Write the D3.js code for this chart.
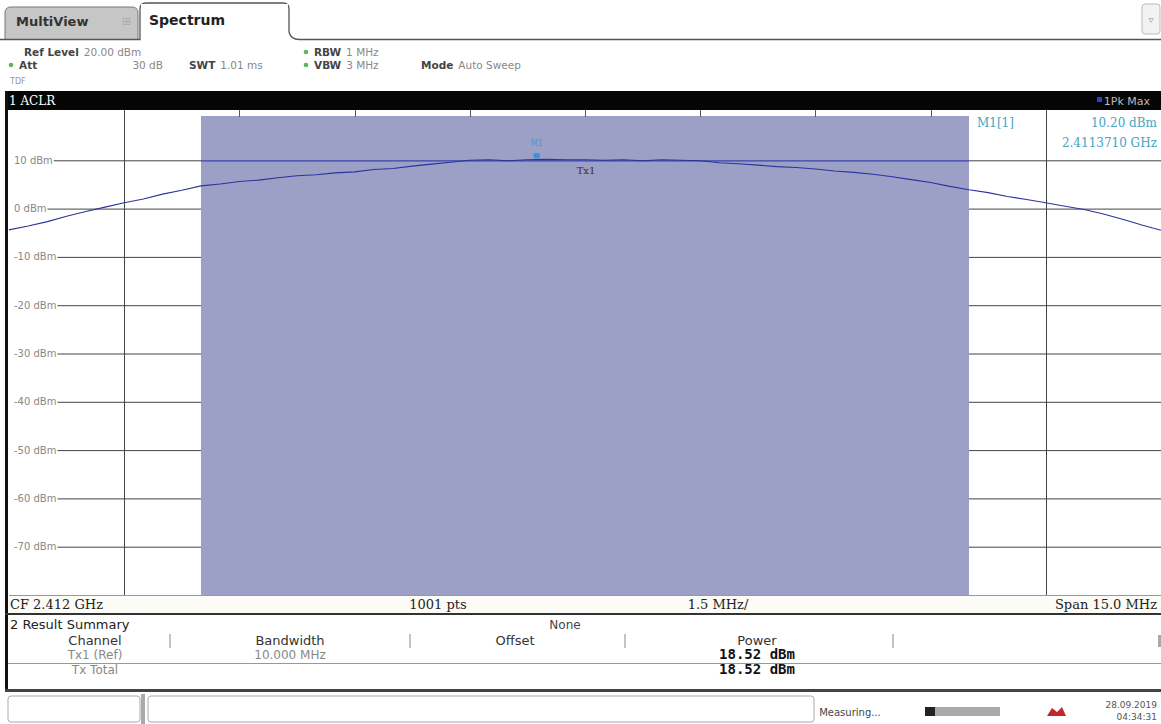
<!DOCTYPE html>
<html>
<head>
<meta charset="utf-8">
<script src="https://cdn.jsdelivr.net/npm/d3@7"></script>
<style>
  body { margin: 0; background: #fff; }
  svg { display: block; font-family: "DejaVu Sans", Verdana, sans-serif; }
</style>
</head>
<body>
<div id="chart"></div>
<script>
// ACLR screen, values

// frequency offset from CF (MHz) and trace level (dBm)
const traceFreq = [-7.5,-7.25,-7,-6.75,-6.5,-6.25,-6,-5.75,-5.5,-5.25,-5,-4.75,-4.5,-4.25,-4,-3.75,-3.5,-3.25,-3,-2.75,-2.5,-2.25,-2,-1.75,-1.5,-1.25,-1,-0.75,-0.5,-0.25,0,0.25,0.5,0.75,1,1.25,1.5,1.75,2,2.25,2.5,2.75,3,3.25,3.5,3.75,4,4.25,4.5,4.75,5,5.25,5.5,5.75,6,6.25,6.5,6.75,7,7.25,7.5];
const traceLevel = [-4.4,-3.6,-2.7,-1.6,-0.6,0.3,1.2,2.0,3.0,3.8,4.7,5.1,5.6,5.9,6.4,6.8,7.0,7.4,7.6,8.1,8.3,8.8,9.2,9.6,10.0,10.1,9.9,10.1,10.2,10.1,10.1,10.0,10.1,9.9,10.1,10.0,9.9,9.5,9.3,9.0,8.7,8.5,8.2,7.8,7.5,7.1,6.6,6.0,5.4,4.6,3.9,3.3,2.5,1.9,1.2,0.5,-0.2,-1.1,-2.2,-3.4,-4.5];

const gridFreq = [-6,-4.5,-3,-1.5,0,1.5,3,4.5,6];
const gridLevel = [10,0,-10,-20,-30,-40,-50,-60,-70];
const channel = {name: 'Tx1', lo: -5, hi: 5};
const marker = {name: 'M1', freq: -0.629, level: 10.20, label: '10.20 dBm', freqLabel: '2.4113710 GHz'};

const footer = ['CF 2.412 GHz', '1001 pts', '1.5 MHz/', 'Span 15.0 MHz'];
const tableHead = ['Channel', 'Bandwidth', 'Offset', 'Power'];
const tableRows = [
  ['Tx1 (Ref)', '10.000 MHz', '', '18.52 dBm'],
  ['Tx Total', '', '', '18.52 dBm']
];

const W = 1161, H = 724;
const svg = d3.select('#chart').append('svg')
  .attr('width', W).attr('height', H);

const small = (x, y, t, opts = {}) => svg.append('text').attr('x', x).attr('y', y).text(t)
  .attr('text-anchor', opts.anchor || 'start')
  .style('font-size', (opts.size || 10) + 'px')
  .style('font-weight', opts.bold ? 'bold' : 'normal')
  .style('fill', opts.fill || '#555')
  .style('font-family', opts.family || null);
const dot = (x, y) => svg.append('circle').attr('cx', x).attr('cy', y).attr('r', 2.3).style('fill', '#5bb55b');
// bold setting name followed by its grey value
const setting = (x, y, name, value, vx) => {
  const t = small(x, y, name, {size: 10.5, bold: true, fill: '#444'});
  const w = t.node().getComputedTextLength();
  small(vx || x + w + 5, y, value, {size: 10.5, fill: '#888', anchor: vx ? 'end' : 'start'});
};

// ---------- header ----------
svg.append('path')
  .attr('d', 'M5,39 L5,13 Q5,7 11,7 L132,7 Q138,7 138,13 L138,39')
  .style('fill', '#c6c6c6').style('stroke', '#777');
svg.append('path')
  .attr('d', 'M0,39.5 L140,39.5 L140,9 Q140,3 146,3 L283,3 Q289,3 289,9 L289,32 Q291,39.5 299,39.5 L1161,39.5')
  .style('fill', 'none').style('stroke', '#555').style('stroke-width', 1.3);
svg.append('rect').attr('x', 141).attr('y', 4).attr('width', 147).attr('height', 35).style('fill', '#fff');
small(16, 26, 'MultiView', {size: 13, bold: true, fill: '#333'});
small(122, 25, '⊞', {size: 11, fill: '#aaa'});
small(149, 25, 'Spectrum', {size: 14, bold: true, fill: '#222'});
svg.append('rect').attr('x', 1142).attr('y', 4).attr('width', 18).attr('height', 30).attr('rx', 3)
  .style('fill', '#f2f2f2').style('stroke', '#bbb');
small(1151, 23, '▿', {size: 10, fill: '#999', anchor: 'middle'});

// settings
setting(24, 56, 'Ref Level', '20.00 dBm');
dot(11, 65); setting(19, 69, 'Att', '30 dB', 163);
setting(189, 69, 'SWT', '1.01 ms');
dot(306, 52); setting(314, 56, 'RBW', '1 MHz');
dot(306, 65); setting(314, 69, 'VBW', '3 MHz');
setting(421, 69, 'Mode', 'Auto Sweep');
small(10, 84, 'TDF', {size: 8, fill: '#999'});

// ---------- diagram ----------
const pLeft = 9, pRight = 1161, pTop = 112, pBottom = 595;
const x = d3.scaleLinear().domain([-7.5, 7.5]).range([pLeft, pRight]);
const y = d3.scaleLinear().domain([-80, 20]).range([pBottom, pTop]);

// title bar
svg.append('rect').attr('x', 5).attr('y', 91).attr('width', W - 5).attr('height', 19).style('fill', '#050505');
small(9, 105, '1 ACLR', {size: 12, fill: '#fff', family: 'DejaVu Serif, serif'});
svg.append('rect').attr('x', 1097).attr('y', 97).attr('width', 5).attr('height', 5).style('fill', '#3040c8');
small(1150, 105, '1Pk Max', {size: 11, fill: '#bbb', anchor: 'end'});

// left frame
svg.append('rect').attr('x', 5).attr('y', 91).attr('width', 3).attr('height', 523).style('fill', '#111');
svg.append('rect').attr('x', pLeft).attr('y', 110).attr('width', pRight - pLeft).attr('height', pBottom - 110).style('fill', '#fff');

// horizontal grid with labels
const gy = svg.append('g');
gridLevel.forEach(function(v) {
  const t = gy.append('text').attr('x', 14).attr('y', y(v) + 3.5).text(v + ' dBm')
    .style('font-size', '10px').style('fill', '#888');
  const w = t.node().getComputedTextLength();
  gy.append('line').attr('x1', 14 + w + 1).attr('x2', pRight)
    .attr('y1', y(v) + 0.5).attr('y2', y(v) + 0.5)
    .style('stroke', '#444').style('stroke-width', 1);
});
// vertical grid
svg.append('g').selectAll('line').data(gridFreq).enter().append('line')
  .attr('x1', d => Math.round(x(d)) + 0.5).attr('x2', d => Math.round(x(d)) + 0.5)
  .attr('y1', pTop - 2).attr('y2', pBottom)
  .style('stroke', '#444').style('stroke-width', 1);

// channel shading
svg.append('rect')
  .attr('x', x(channel.lo)).attr('y', pTop + 4)
  .attr('width', x(channel.hi) - x(channel.lo)).attr('height', pBottom - pTop - 4)
  .style('fill', '#9c9fc6');
svg.append('g').selectAll('line').data(gridFreq.filter(d => d > channel.lo && d < channel.hi)).enter().append('line')
  .attr('x1', d => Math.round(x(d)) + 0.5).attr('x2', d => Math.round(x(d)) + 0.5)
  .attr('y1', pTop - 2).attr('y2', pTop + 5)
  .style('stroke', '#555');
svg.append('line').attr('x1', x(channel.lo)).attr('x2', x(channel.hi))
  .attr('y1', y(10) + 0.5).attr('y2', y(10) + 0.5)
  .style('stroke', '#3a44a8').style('stroke-width', 1.3);
small(x(0) + 1, y(10) + 14, channel.name, {size: 10, fill: '#333', family: 'DejaVu Serif, serif', anchor: 'middle'});

// trace
const traceData = traceFreq.map((f, i) => [f, traceLevel[i]]);
const line = d3.line().x(d => x(d[0])).y(d => y(d[1]));
svg.append('path').datum(traceData).attr('d', line)
  .style('fill', 'none').style('stroke', '#2d339c').style('stroke-width', 1.1);

// marker
svg.append('rect').attr('x', x(marker.freq) - 3).attr('y', y(marker.level) - 6)
  .attr('width', 6).attr('height', 5).style('fill', '#3d8ee0');
small(x(marker.freq), y(marker.level) - 13, marker.name, {size: 8, fill: '#4a9ad8', anchor: 'middle'});

// marker table
svg.append('rect').attr('x', x(channel.hi) + 1).attr('y', pTop).attr('width', pRight - x(channel.hi) - 1).attr('height', 40)
  .style('fill', '#fff');
svg.append('line').attr('x1', Math.round(x(6)) + 0.5).attr('x2', Math.round(x(6)) + 0.5).attr('y1', pTop).attr('y2', pTop + 48)
  .style('stroke', '#444');
const mt = {size: 12, fill: '#44a4c4', family: 'DejaVu Serif, serif'};
small(977, 127, 'M1[1]', mt);
small(1157, 127, marker.label, Object.assign({anchor: 'end'}, mt));
small(1157, 147, marker.freqLabel, Object.assign({anchor: 'end'}, mt));

// footer row
svg.append('rect').attr('x', pLeft).attr('y', pBottom).attr('width', pRight - pLeft).attr('height', 18).style('fill', '#fdfbf6');
svg.append('line').attr('x1', pLeft).attr('x2', pRight).attr('y1', pBottom + 0.5).attr('y2', pBottom + 0.5).style('stroke', '#999');
const ft = {size: 13, fill: '#222', family: 'DejaVu Serif, serif'};
small(10, 609, footer[0], ft);
small(438, 609, footer[1], Object.assign({anchor: 'middle'}, ft));
small(718, 609, footer[2], Object.assign({anchor: 'middle'}, ft));
small(1157, 609, footer[3], Object.assign({anchor: 'end'}, ft));
svg.append('rect').attr('x', 5).attr('y', 613).attr('width', W - 5).attr('height', 2).style('fill', '#333');

// ---------- result summary ----------
svg.append('rect').attr('x', 5).attr('y', 615).attr('width', 3).attr('height', 77).style('fill', '#111');
small(10, 629, '2 Result Summary', {size: 13, fill: '#222'});
small(565, 629, 'None', {size: 12, fill: '#444', anchor: 'middle'});
const colX = [95, 290, 515, 757];
const sepX = [170, 410, 625, 893];
tableHead.forEach((h, i) => small(colX[i], 645, h, {size: 13, fill: '#333', anchor: 'middle'}));
sepX.forEach(s => svg.append('line').attr('x1', s).attr('x2', s).attr('y1', 634).attr('y2', 648).style('stroke', '#888'));
svg.append('rect').attr('x', 1158).attr('y', 635).attr('width', 3).attr('height', 12).style('fill', '#aaa');
tableRows.forEach(function(r, ri) {
  const ry = 659 + ri * 15;
  r.forEach(function(c, ci) {
    if (!c) return;
    if (ci === 3) small(colX[ci], ry, c, {size: 14, bold: true, fill: '#111', anchor: 'middle', family: 'DejaVu Sans Mono, monospace'});
    else small(colX[ci], ry, c, {size: 12, fill: '#888', anchor: 'middle'});
  });
});
svg.append('line').attr('x1', 8).attr('x2', pRight).attr('y1', 663.5).attr('y2', 663.5).style('stroke', '#999');
svg.append('rect').attr('x', 5).attr('y', 689).attr('width', W - 5).attr('height', 3).style('fill', '#444');

// ---------- status bar ----------
svg.append('rect').attr('x', 8).attr('y', 696).attr('width', 132).attr('height', 26).attr('rx', 3)
  .style('fill', '#fff').style('stroke', '#aaa');
svg.append('rect').attr('x', 141).attr('y', 694).attr('width', 4).attr('height', 30).style('fill', '#aaa');
svg.append('rect').attr('x', 148).attr('y', 696).attr('width', 666).attr('height', 26).attr('rx', 3)
  .style('fill', '#fff').style('stroke', '#aaa');
small(850, 716, 'Measuring...', {size: 10, fill: '#444', anchor: 'middle'});
svg.append('rect').attr('x', 925).attr('y', 707).attr('width', 75).attr('height', 9).style('fill', '#aaa');
svg.append('rect').attr('x', 925).attr('y', 707).attr('width', 10).attr('height', 9).style('fill', '#222');
svg.append('path').attr('d', 'M1047,716 L1052,708 L1057,712 L1062,707 L1066,716 Z').style('fill', '#c0282c');
small(1157, 708, '28.09.2019', {size: 9, fill: '#555', anchor: 'end'});
small(1157, 720, '04:34:31', {size: 9, fill: '#555', anchor: 'end'});
</script>
</body>
</html>
